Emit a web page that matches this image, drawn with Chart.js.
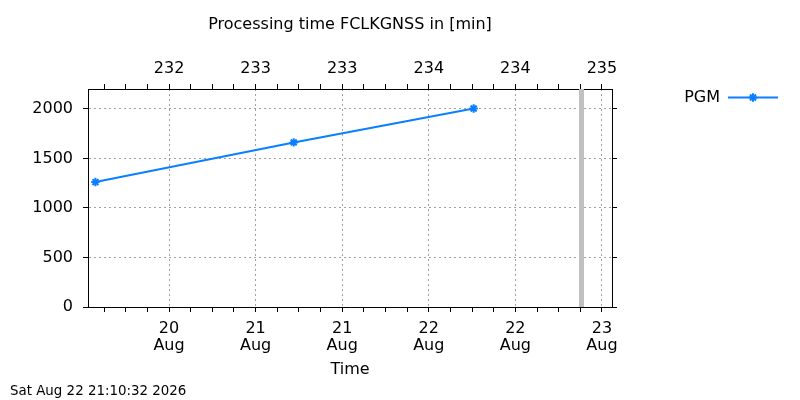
<!DOCTYPE html>
<html>
<head>
<meta charset="utf-8">
<script src="https://cdn.jsdelivr.net/npm/chart.js@4.4.0/dist/chart.umd.min.js"></script>
<style>
  html, body { margin: 0; padding: 0; background: #ffffff; }
  #wrap { width: 800px; height: 400px; }
</style>
</head>
<body>
<div id="wrap"><canvas id="c" width="800" height="400"></canvas></div>
<script>
// ---- data (x = day of August, fractional) ----
const seriesLabel = 'PGM';
const pgmTimes = [20.075, 21.220, 22.259];
const pgmValues = [1261, 1661, 2003];
const nowTime = 22.882;           // grey "now" bar
const nowBarRange = [0, 2200];

// ---- axes ----
const xMin = 20.032, xMax = 23.058;
const xMajorTicks = [20.5, 21, 21.5, 22, 22.5, 23];
const bottomDayLabels = ['20', '21', '21', '22', '22', '23'];
const bottomMonthLabels = ['Aug', 'Aug', 'Aug', 'Aug', 'Aug', 'Aug'];
const topDoyLabels = ['232', '233', '233', '234', '234', '235'];
const xMinorStep = 0.125;
const yMin = 0, yMax = 2200;
const yTicks = [0, 500, 1000, 1500, 2000];

const titleText = 'Processing time FCLKGNSS in [min]';
const xTitle = 'Time';
const stampText = 'Sat Aug 22 21:10:32 2026';

const BLUE = '#0a7fff';
const GRID = '#a0a0a0';
const FS = 16;

// all x tick positions (major + minor)
const xAllTicks = [];
for (let v = xMajorTicks[0] - 3 * xMinorStep; v <= xMax + 1e-9; v += xMinorStep) {
  if (v >= xMin - 1e-9) xAllTicks.push(Math.round(v * 1000) / 1000);
}
function majorIndex(v) {
  return xMajorTicks.findIndex(m => Math.abs(m - v) < 1e-6);
}

Chart.defaults.font.family = 'DejaVu Sans';
Chart.defaults.font.size = FS;
Chart.defaults.color = '#000';

const legendPlugin = {
  id: 'gpLegend',
  afterDraw(chart) {
    const ctx = chart.ctx;
    const y = 97.5;
    ctx.save();
    ctx.font = FS + 'px "DejaVu Sans"';
    ctx.fillStyle = '#000';
    ctx.textAlign = 'right';
    ctx.textBaseline = 'middle';
    ctx.fillText(chart.data.datasets[0].label, 720, y);
    ctx.strokeStyle = BLUE;
    ctx.fillStyle = BLUE;
    ctx.lineWidth = 2;
    ctx.beginPath();
    ctx.moveTo(728, y);
    ctx.lineTo(778, y);
    ctx.stroke();
    ctx.lineWidth = 2;
    Chart.helpers.drawPoint(ctx, {pointStyle: 'star', radius: 4.2, borderWidth: 2, rotation: 0}, 753, y);
    ctx.restore();
  }
};

new Chart(document.getElementById('c'), {
  type: 'line',
  data: {
    datasets: [
      {
        label: seriesLabel,
        data: pgmTimes.map((t, i) => ({x: t, y: pgmValues[i]})),
        borderColor: BLUE,
        backgroundColor: BLUE,
        borderWidth: 2,
        pointStyle: 'star',
        pointRadius: 4.2,
        pointBorderWidth: 2,
        pointBorderColor: BLUE,
        pointBackgroundColor: BLUE,
        tension: 0,
        xAxisID: 'x',
        yAxisID: 'y',
        order: 0
      },
      {
        label: 'now',
        data: nowBarRange.map(v => ({x: nowTime, y: v})),
        borderColor: '#c0c0c0',
        borderWidth: 5,
        pointRadius: 0,
        borderCapStyle: 'butt',
        xAxisID: 'x',
        yAxisID: 'y',
        order: 1
      }
    ]
  },
  options: {
    responsive: false,
    animation: false,
    devicePixelRatio: 1,
    layout: { padding: { left: 10, right: 110, top: 0, bottom: 0 } },
    plugins: {
      legend: { display: false },
      tooltip: { enabled: false },
      title: {
        display: true,
        text: titleText,
        color: '#000',
        font: { size: FS, weight: 'normal', lineHeight: 1.2 },
        padding: { top: 14.8, bottom: 2 }
      },
      subtitle: {
        display: true,
        text: stampText,
        position: 'bottom',
        align: 'start',
        color: '#000',
        font: { family: 'DejaVu Sans', size: 13.4, weight: 'normal', lineHeight: 1.2 },
        padding: { top: 3, bottom: 0.9 }
      }
    },
    scales: {
      x: {
        type: 'linear',
        position: 'bottom',
        min: xMin, max: xMax,
        afterBuildTicks: s => { s.ticks = xAllTicks.map(v => ({value: v})); },
        afterFit: s => { s.height = 73; },
        ticks: {
          autoSkip: false, maxRotation: 0, minRotation: 0, padding: 8.6,
          font: { size: FS, lineHeight: 1.05 },
          callback: v => { const i = majorIndex(v); return i < 0 ? '' : [bottomDayLabels[i], bottomMonthLabels[i]]; }
        },
        grid: {
          color: c => (c.tick && majorIndex(c.tick.value) >= 0) ? GRID : 'rgba(0,0,0,0)',
          tickColor: '#000', tickLength: 5, lineWidth: 1, tickWidth: 1
        },
        border: { display: true, color: '#000', width: 1, dash: [2, 3] },
        title: { display: true, text: xTitle, font: { size: FS }, padding: { top: 0, bottom: 0.5 } }
      },
      x2: {
        type: 'linear',
        position: 'top',
        min: xMin, max: xMax,
        afterBuildTicks: s => { s.ticks = xAllTicks.map(v => ({value: v})); },
        afterFit: s => { s.height = 53; },
        ticks: {
          autoSkip: false, maxRotation: 0, minRotation: 0, padding: 6,
          callback: v => { const i = majorIndex(v); return i < 0 ? '' : topDoyLabels[i]; }
        },
        grid: { drawOnChartArea: false, tickColor: '#000', tickLength: 5, color: '#000' },
        border: { display: true, color: '#000', width: 1 }
      },
      y: {
        type: 'linear',
        position: 'left',
        min: yMin, max: yMax,
        afterBuildTicks: s => { s.ticks = yTicks.map(v => ({value: v})); },
        afterFit: s => { s.width = 78; },
        ticks: { padding: 10, callback: v => String(v) },
        grid: { color: GRID, tickColor: '#000', tickLength: 5 },
        border: { display: true, color: '#000', width: 1, dash: [2, 3] }
      },
      y2: {
        type: 'linear',
        position: 'right',
        min: yMin, max: yMax,
        afterBuildTicks: s => { s.ticks = yTicks.map(v => ({value: v})); },
        afterFit: s => { s.width = 78; },
        ticks: { display: false },
        grid: { drawOnChartArea: false, tickColor: '#000', tickLength: 5, color: '#000' },
        border: { display: true, color: '#000', width: 1 }
      }
    }
  },
  plugins: [legendPlugin]
});
</script>
</body>
</html>
